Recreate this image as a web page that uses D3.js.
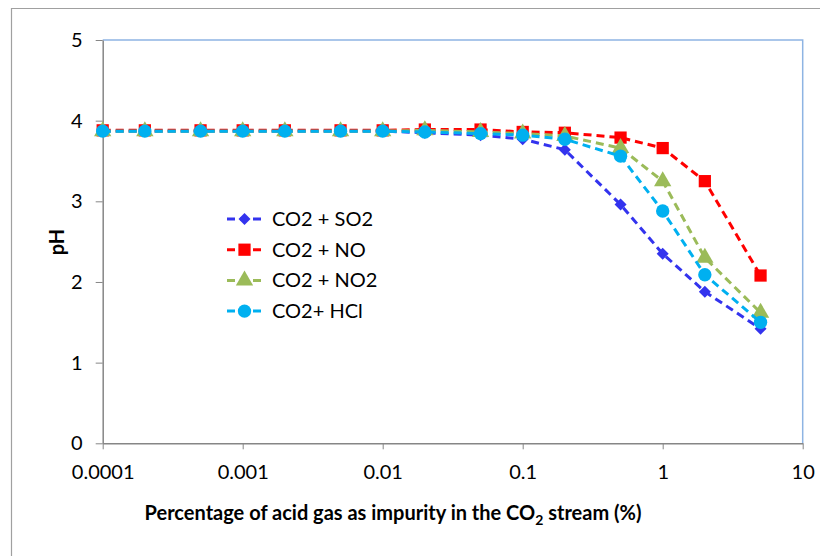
<!DOCTYPE html>
<html>
<head>
<meta charset="utf-8">
<script src="https://cdn.jsdelivr.net/npm/d3@7"></script>
<style>
  html, body { margin: 0; padding: 0; background: #fff; }
  svg { display: block; font-family: Lato, "Open Sans", sans-serif; }
</style>
</head>
<body>
<svg id="chart" width="820" height="556"></svg>
<script>
// Impurity level (% acid gas in the CO2 stream)
const concentrations = [0.0001, 0.0002, 0.0005, 0.001, 0.002, 0.005, 0.01, 0.02, 0.05, 0.1, 0.2, 0.5, 1, 2, 5];

// pH for each acid gas
const phSO2 = [3.87, 3.87, 3.87, 3.87, 3.87, 3.87, 3.87, 3.85, 3.82, 3.77, 3.64, 2.96, 2.35, 1.88, 1.42];
const phNO  = [3.88, 3.88, 3.88, 3.88, 3.88, 3.88, 3.88, 3.89, 3.89, 3.86, 3.85, 3.79, 3.66, 3.25, 2.08];
const phNO2 = [3.87, 3.87, 3.87, 3.87, 3.87, 3.87, 3.87, 3.88, 3.86, 3.84, 3.81, 3.66, 3.25, 2.30, 1.62];
const phHCl = [3.87, 3.87, 3.87, 3.87, 3.87, 3.87, 3.87, 3.86, 3.84, 3.82, 3.77, 3.56, 2.88, 2.09, 1.50];

const seriesNames = ["CO2 + SO2", "CO2 + NO", "CO2 + NO2", "CO2+ HCl"];
const seriesColors = ["#3333ee", "#ff0000", "#9bbb59", "#00b0f0"];
// diamond = square turned by 45 degrees
const seriesSymbols = [d3.symbolSquare, d3.symbolSquare, d3.symbolTriangle, d3.symbolCircle];
const seriesRotations = [45, 0, 0, 0];
const seriesSymbolSizes = [72, 150, 130, 140];

const xTicks = [0.0001, 0.001, 0.01, 0.1, 1, 10];
const xTickLabels = ["0.0001", "0.001", "0.01", "0.1", "1", "10"];
const yTicks = [0, 1, 2, 3, 4, 5];

const series = [phSO2, phNO, phNO2, phHCl].map((vals, i) => ({
  name: seriesNames[i],
  color: seriesColors[i],
  symbol: seriesSymbols[i],
  rotate: seriesRotations[i],
  size: seriesSymbolSizes[i],
  points: concentrations.map((c, j) => ({ x: c, y: vals[j] }))
}));

const svg = d3.select("#chart");
const plot = { left: 102.7, right: 802.7, top: 40, bottom: 443.3 };

const x = d3.scaleLog().domain([0.0001, 10]).range([plot.left, plot.right]);
const y = d3.scaleLinear().domain([0, 5]).range([plot.bottom, plot.top]);

// outer chart frame
svg.append("path")
  .attr("d", `M11.5,556 V8.5 H820`)
  .attr("fill", "none")
  .attr("stroke", "#a0a0a0")
  .attr("stroke-width", 1.2);

// plot area frame (top and right edges)
svg.append("path")
  .attr("d", `M${plot.left},${plot.top} H${plot.right} V${plot.bottom}`)
  .attr("fill", "none")
  .attr("stroke", "#8eb4e3")
  .attr("stroke-width", 1.5);

// axes
const xAxis = d3.axisBottom(x)
  .tickValues(xTicks)
  .tickFormat((d, i) => xTickLabels[i])
  .tickSizeInner(6)
  .tickSizeOuter(0)
  .tickPadding(16);

const yAxis = d3.axisLeft(y)
  .tickValues(yTicks)
  .tickFormat(d3.format("d"))
  .tickSizeInner(7)
  .tickSizeOuter(0)
  .tickPadding(13);

const gx = svg.append("g")
  .attr("transform", `translate(0,${plot.bottom})`)
  .call(xAxis);
const gy = svg.append("g")
  .attr("transform", `translate(${plot.left},0)`)
  .call(yAxis);

[gx, gy].forEach(g => {
  g.select(".domain").attr("stroke", "#868686").attr("stroke-width", 1.5);
  g.selectAll(".tick line").attr("stroke", "#868686").attr("stroke-width", 1);
  g.selectAll(".tick text")
    .attr("fill", "#000")
    .style("font-family", "Lato, sans-serif")
    .style("font-size", "20px");
});

// lines and markers
const line = d3.line().x(d => x(d.x)).y(d => y(d.y));

const gSeries = svg.append("g");
series.forEach(s => {
  gSeries.append("path")
    .datum(s.points)
    .attr("d", line)
    .attr("fill", "none")
    .attr("stroke", s.color)
    .attr("stroke-width", 3)
    .attr("stroke-dasharray", "8,5");
  gSeries.selectAll(null)
    .data(s.points)
    .join("path")
    .attr("transform", d => `translate(${x(d.x)},${y(d.y)}) rotate(${s.rotate})`)
    .attr("d", d3.symbol().type(s.symbol).size(s.size))
    .attr("fill", s.color);
});

// legend
const legend = svg.append("g").attr("transform", "translate(227,219)");
series.forEach((s, i) => {
  const row = legend.append("g").attr("transform", `translate(0,${i * 30.7})`);
  row.append("line")
    .attr("x1", 0).attr("x2", 35)
    .attr("stroke", s.color)
    .attr("stroke-width", 3)
    .attr("stroke-dasharray", "8,5");
  row.append("path")
    .attr("transform", `translate(17.5,0) rotate(${s.rotate})`)
    .attr("d", d3.symbol().type(s.symbol).size(s.size))
    .attr("fill", s.color);
  row.append("text")
    .attr("x", 45)
    .attr("y", 0)
    .attr("dy", "0.35em")
    .style("font-size", "20px")
    .text(s.name);
});

// axis titles
const xTitle = svg.append("text")
  .attr("x", 393)
  .attr("y", 520)
  .attr("text-anchor", "middle")
  .style("font-size", "20px")
  .style("font-weight", "bold");
xTitle.append("tspan").text("Percentage of acid gas as impurity in the CO");
xTitle.append("tspan").attr("dy", 5).style("font-size", "14px").text("2");
xTitle.append("tspan").attr("dy", -5).text(" stream (%)");

svg.append("text")
  .attr("transform", "translate(64,242) rotate(-90)")
  .attr("text-anchor", "middle")
  .style("font-size", "20px")
  .style("font-weight", "bold")
  .text("pH");
</script>
</body>
</html>
